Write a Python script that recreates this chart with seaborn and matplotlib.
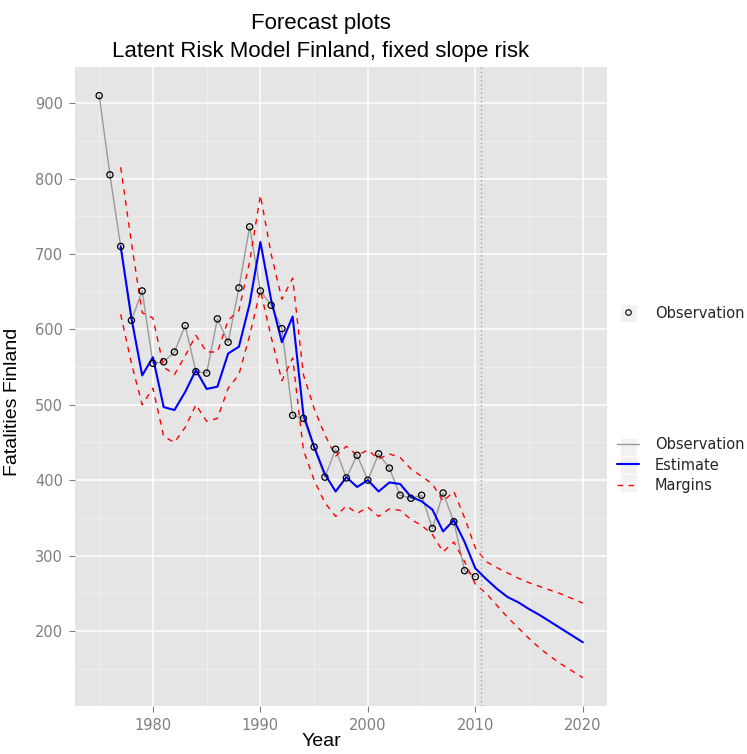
import numpy as np
import pandas as pd
import matplotlib
matplotlib.use("Agg")
import matplotlib.pyplot as plt
import seaborn as sns
from matplotlib.lines import Line2D
from matplotlib.patches import Rectangle

# observed fatalities
obs_years = list(range(1975, 2011))
obs_values = [910, 805, 710, 612, 651, 555, 557, 570, 605, 544,
              542, 614, 583, 655, 736, 651, 632, 601, 486, 482,
              444, 404, 441, 403, 433, 400, 435, 416, 380, 376,
              380, 336, 383, 345, 280, 272]

# model estimate and margins, incl. forecast to 2020
est_years = list(range(1977, 2021))
est_values = [710, 615, 539, 563, 497, 493, 517, 546, 521, 524,
              568, 577, 634, 716, 639, 583, 617, 487, 444, 408,
              385, 404, 391, 400, 385, 397, 395, 378, 372, 361,
              332, 347, 318, 283, 269, 256, 245, 238, 229, 221,
              212, 203, 194, 185]
upper_values = [815, 715, 622, 615, 550, 540, 565, 592, 570, 570,
                612, 625, 690, 778, 700, 640, 668, 540, 495, 460,
                432, 445, 433, 440, 428, 435, 430, 415, 405, 395,
                372, 385, 350, 310, 292, 284, 277, 270, 264, 259,
                254, 249, 243, 237]
lower_values = [620, 555, 500, 522, 458, 450, 470, 500, 478, 482,
                522, 540, 592, 652, 590, 532, 562, 440, 400, 370,
                352, 366, 356, 364, 352, 362, 360, 348, 340, 328,
                305, 318, 292, 262, 250, 234, 218, 204, 190, 177,
                166, 156, 147, 138]
forecast_start = 2010.5

obs_df = pd.DataFrame({"year": obs_years, "value": obs_values})
est_df = pd.DataFrame({"year": est_years, "estimate": est_values,
                       "upper": upper_values, "lower": lower_values})

sns.set_style("darkgrid", {"axes.facecolor": "#E5E5E5", "grid.color": "white"})
plt.rcParams["font.family"] = ["DejaVu Sans"]

W, H = 747, 754
fig = plt.figure(figsize=(W / 100, H / 100), dpi=100)
ax = fig.add_axes([75 / W, 1 - 706 / H, (607 - 75) / W, (706 - 67) / H])

sns.lineplot(data=obs_df, x="year", y="value", ax=ax, color="#9A9A9A", lw=1.0)
sns.lineplot(data=est_df, x="year", y="estimate", ax=ax, color="#0000FF", lw=1.5)
for col in ["upper", "lower"]:
    sns.lineplot(data=est_df, x="year", y=col, ax=ax, color="#FF0000", lw=1.0,
                 dashes=False, linestyle=(0, (4, 4)))
sns.scatterplot(data=obs_df, x="year", y="value", ax=ax, marker="o",
                facecolor="none", edgecolor="black", s=20, linewidth=0.9, zorder=5)
ax.axvline(forecast_start, color="#A0A0A0", lw=1.0, linestyle=(0, (1, 2)))

ax.set_xlim(1972.75, 2022.25)
ax.set_ylim(100.5, 948)
ax.set_xticks([1980, 1990, 2000, 2010, 2020])
ax.set_yticks([200, 300, 400, 500, 600, 700, 800, 900])
ax.set_xticks([1975, 1985, 1995, 2005, 2015], minor=True)
ax.set_yticks([150, 250, 350, 450, 550, 650, 750, 850], minor=True)
ax.grid(which="major", color="white", lw=1.1)
ax.grid(which="minor", color="#F2F2F2", lw=0.6)
ax.tick_params(which="major", length=4.5, width=0.8, color="#7F7F7F",
               labelcolor="#7F7F7F", labelsize=10.5, pad=4, bottom=True, left=True)
ax.tick_params(which="minor", length=0)
for s in ax.spines.values():
    s.set_visible(False)
ax.set_xlabel("")
ax.set_ylabel("")

txt = dict(family=["Liberation Sans", "DejaVu Sans"], color="black")
fig.text(321 / W, 1 - 23 / H, "Forecast plots", ha="center", va="center", fontsize=16, **txt)
fig.text(321 / W, 1 - 52 / H, "Latent Risk Model Finland, fixed slope risk",
         ha="center", va="center", fontsize=16, **txt)
fig.text(321 / W, 1 - 742 / H, "Year", ha="center", va="center", fontsize=14, **txt)
fig.text(13 / W, 1 - 402 / H, "Fatalities Finland", ha="center", va="center",
         rotation=90, fontsize=14, **txt)

# legend key backgrounds
for yk in [313, 447, 465, 483]:
    fig.patches.append(Rectangle(((620) / W, 1 - (yk + 9) / H), 17 / W, 18 / H,
                                 transform=fig.transFigure, facecolor="#F2F2F2",
                                 edgecolor="white", lw=0.8, zorder=0))

h_pt = [Line2D([], [], marker="o", ls="none", mfc="none", mec="black", ms=4, mew=0.8)]
leg1 = fig.legend(h_pt, ["Observation"], loc="center left",
                  bbox_to_anchor=(617 / W, 1 - 313 / H), frameon=False,
                  handlelength=1.5, handletextpad=1.1, fontsize=10.5,
                  borderpad=0, borderaxespad=0)
h_ln = [Line2D([], [], color="#9A9A9A", lw=1.0),
        Line2D([], [], color="#0000FF", lw=1.5),
        Line2D([], [], color="#FF0000", lw=1.0, ls=(0, (4, 4)))]
leg2 = fig.legend(h_ln, ["Observation", "Estimate", "Margins"], loc="center left",
                  bbox_to_anchor=(617 / W, 1 - 465 / H), frameon=False,
                  handlelength=1.5, handletextpad=1.1, fontsize=10.5,
                  labelspacing=0.35, borderpad=0, borderaxespad=0)

fig.savefig("out.png", dpi=100)
